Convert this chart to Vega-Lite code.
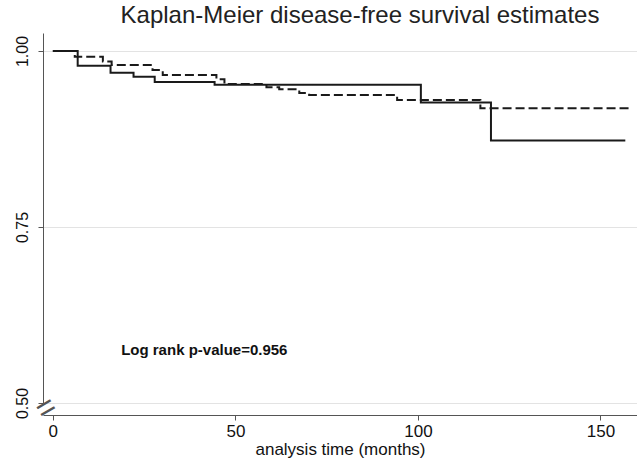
{
  "$schema": "https://vega.github.io/schema/vega-lite/v6.json",
  "width": 594,
  "height": 370,
  "autosize": "none",
  "padding": {"left": 43, "top": 33, "right": 0, "bottom": 55},
  "background": "white",
  "title": {
    "text": "Kaplan-Meier disease-free survival estimates",
    "fontSize": 24,
    "font": "Liberation Sans",
    "fontWeight": "normal",
    "color": "#222222",
    "anchor": "middle",
    "dx": 20,
    "offset": 5
  },
  "config": {"view": {"stroke": null}, "font": "Liberation Sans"},
  "datasets": {
    "km": [
      {"group": "A", "time": 0, "surv": 1.0},
      {"group": "A", "time": 6.8, "surv": 0.979},
      {"group": "A", "time": 15.8, "surv": 0.969},
      {"group": "A", "time": 22.1, "surv": 0.9635},
      {"group": "A", "time": 27.9, "surv": 0.956},
      {"group": "A", "time": 44.3, "surv": 0.952},
      {"group": "A", "time": 100.8, "surv": 0.927},
      {"group": "A", "time": 120, "surv": 0.873},
      {"group": "A", "time": 156.8, "surv": 0.873},
      {"group": "B", "time": 0, "surv": 1.0},
      {"group": "B", "time": 6.0, "surv": 0.992},
      {"group": "B", "time": 13.7, "surv": 0.985},
      {"group": "B", "time": 16.1, "surv": 0.98},
      {"group": "B", "time": 27.3, "surv": 0.973},
      {"group": "B", "time": 30.1, "surv": 0.966},
      {"group": "B", "time": 44.8, "surv": 0.96},
      {"group": "B", "time": 47.0, "surv": 0.953},
      {"group": "B", "time": 58.5, "surv": 0.9484},
      {"group": "B", "time": 62.0, "surv": 0.9456},
      {"group": "B", "time": 67.5, "surv": 0.9403},
      {"group": "B", "time": 70.2, "surv": 0.9375},
      {"group": "B", "time": 94.3, "surv": 0.9304},
      {"group": "B", "time": 117.1, "surv": 0.9186},
      {"group": "B", "time": 158.5, "surv": 0.9186}
    ],
    "note": [{"time": 18.7, "surv": 0.568, "label": "Log rank p-value=0.956"}],
    "brk": [{"time": -2.7, "surv": 0.5, "label": "="}]
  },
  "layer": [
    {
      "data": {"name": "km"},
      "mark": {"type": "line", "interpolate": "step-after", "strokeWidth": 2, "color": "#1a1a1a"},
      "encoding": {
        "x": {
          "field": "time",
          "type": "quantitative",
          "scale": {"domain": [-2.7, 160], "nice": false, "zero": false},
          "axis": {
            "values": [0, 50, 100, 150],
            "title": "analysis time (months)",
            "titleFontSize": 17,
            "titleFontWeight": "normal",
            "titleColor": "#111111",
            "titlePadding": 2,
            "labelFontSize": 17,
            "labelColor": "#111111",
            "labelPadding": 3,
            "labelFlush": false,
            "tickSize": 5,
            "tickColor": "#555555",
            "domainColor": "#555555",
            "offset": 12,
            "grid": false
          }
        },
        "y": {
          "field": "surv",
          "type": "quantitative",
          "scale": {"domain": [0.5, 1.0256], "nice": false, "zero": false},
          "axis": {
            "values": [0.5, 0.75, 1.0],
            "format": ".2f",
            "title": null,
            "labelAngle": 270,
            "labelAlign": "center",
            "labelBaseline": "bottom",
            "labelFontSize": 16,
            "labelColor": "#111111",
            "labelPadding": 8,
            "tickSize": 5,
            "tickColor": "#555555",
            "domainColor": "#555555",
            "grid": true,
            "gridColor": "#e3e3e3"
          }
        },
        "strokeDash": {
          "field": "group",
          "type": "nominal",
          "scale": {"domain": ["A", "B"], "range": [[1, 0], [9, 4]]},
          "legend": null
        }
      }
    },
    {
      "data": {"name": "note"},
      "mark": {"type": "text", "align": "left", "baseline": "alphabetic", "fontSize": 15, "fontWeight": "bold", "color": "#111111"},
      "encoding": {
        "x": {"field": "time", "type": "quantitative"},
        "y": {"field": "surv", "type": "quantitative"},
        "text": {"field": "label"}
      }
    },
    {
      "data": {"name": "brk"},
      "mark": {"type": "text", "align": "center", "baseline": "middle", "fontSize": 32, "angle": -30, "color": "#555555", "dy": 6},
      "encoding": {
        "x": {"field": "time", "type": "quantitative"},
        "y": {"field": "surv", "type": "quantitative"},
        "text": {"field": "label"}
      }
    }
  ]
}
